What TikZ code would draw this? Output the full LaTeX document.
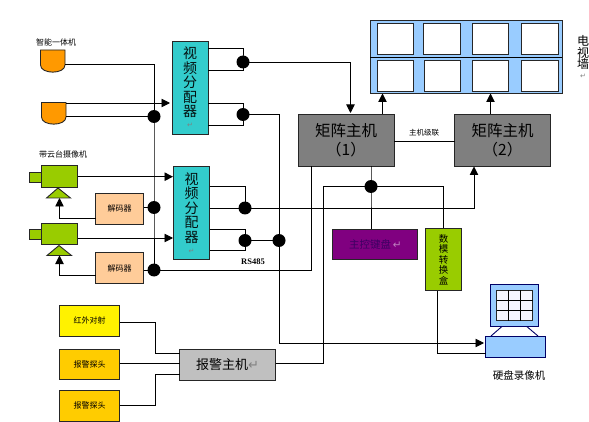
\documentclass[tikz,border=0pt]{standalone}
\usepackage{fontspec}
\setmainfont{Noto Sans CJK SC}
\newfontfamily\arrowfont{DejaVu Sans}
\newfontfamily\latinfont{Liberation Serif}
\usetikzlibrary{arrows.meta,calc}
\definecolor{teal1}{HTML}{33CCCC}
\definecolor{orange1}{HTML}{FF9900}
\definecolor{green1}{HTML}{99CC00}
\definecolor{peach1}{HTML}{FFCC99}
\definecolor{sky1}{HTML}{99CCFF}
\definecolor{amber1}{HTML}{FFCC00}
\definecolor{purple1}{HTML}{800080}
\definecolor{graydark}{HTML}{7F7F7F}
\definecolor{graylight}{HTML}{C0C0C0}
\newcommand{\ret}[1][gray]{{\arrowfont\textcolor{#1}{↵}}}
\newcommand{\fs}[1]{\fontsize{#1}{#1}\selectfont}
\tikzset{
  x=1pt,y=-1pt,
  every path/.style={line width=0.9pt},
  blk/.style={draw=black!85,line width=0.9pt,inner sep=0pt,outer sep=0pt,align=center},
  sized/.style 2 args={minimum width=#1,minimum height=#2},
  splitbox/.style={blk,fill=teal1,sized={36pt}{93pt},text=black!92!teal1,
     font=\fs{14},text width=36pt},
  matrixbox/.style={blk,fill=graydark,sized={96pt}{52pt},text=black,font=\fs{15.5}},
  decoderbox/.style={blk,fill=peach1,sized={48pt}{31pt},font=\fs{8}},
  alarmbox/.style={blk,fill=amber1,sized={60pt}{30.5pt},font=\fs{8}},
  screen/.style={blk,fill=white,sized={36.5pt}{31pt}},
  camerabody/.style={blk,fill=green1,sized={36pt}{21.5pt}},
  cameralens/.style={blk,fill=green1,sized={12pt}{10pt}},
  junction/.style={circle,fill=black,inner sep=0pt,outer sep=0pt,minimum size=13pt},
  wire/.style={draw=black,line width=0.9pt},
  arrowwire/.style={wire,-{Triangle[length=8.5pt,width=8.5pt]}},
  lbl/.style={inner sep=0pt,outer sep=0pt,align=center},
}
\begin{document}
\begin{tikzpicture}
\useasboundingbox (0,0) rectangle (589,422);
% video wall
\node[blk,fill=sky1,sized={192pt}{73pt}] (wall) at (466,56.5) {};
\draw[wire] (wall.west |- 0,57.5) -- (wall.east |- 0,57.5);
\node[screen] (s11) at (395.5,38.5) {};
\node[screen] (s12) at (441.7,38.5) {};
\node[screen] (s13) at (490.5,38.5) {};
\node[screen] (s14) at (539.7,38.5) {};
\node[screen] (s21) at (395.5,75.7) {};
\node[screen] (s22) at (442.2,75.7) {};
\node[screen] (s23) at (490.5,75.7) {};
\node[screen] (s24) at (539.7,75.7) {};
\node[lbl,font=\fs{12},text=black] (walllabel) at (583,57) {电\\[-0.5pt]视\\[-0.5pt]墙\\[-2pt]{\fs{7}\ret}};

% bullet cameras
\draw[blk,fill=orange1] (40.5,50) -- (65,50) -- (65,65) .. controls (65,74.5) and (40.5,74.5) .. (40.5,65) -- cycle;
\draw[blk,fill=orange1] (41.5,102.5) -- (66,102.5) -- (66,117) .. controls (66,126.5) and (41.5,126.5) .. (41.5,117) -- cycle;
\coordinate (bc1) at (65,64);
\coordinate (bc2t) at (66,103);
\coordinate (bc2b) at (66,116.5);
\node[lbl,font=\fs{8}] (lb1) at (56,42.5) {智能一体机};
\node[lbl,font=\fs{8}] (lb2) at (63,154) {带云台摄像机};

% PTZ cameras
\node[camerabody] (cam1) at (59.5,176.7) {};
\node[cameralens] (lens1) at (35.5,177) {};
\draw[blk,fill=green1] (58,188) -- (70.5,198) -- (46.5,198) -- cycle;
\coordinate (base1) at (59.5,198);
\node[camerabody] (cam2) at (59.5,234) {};
\node[cameralens] (lens2) at (35.5,234) {};
\draw[blk,fill=green1] (59,245.5) -- (71.5,255.5) -- (47,255.5) -- cycle;
\coordinate (base2) at (59.5,255.5);

% decoders
\node[decoderbox] (dec1) at (119.5,208.7) {解码器};
\node[decoderbox] (dec2) at (119.5,268) {解码器};

% splitters
\node[splitbox] (sp1) at (190,87.5) {视\\[0.5pt]频\\[0.5pt]分\\[0.5pt]配\\[0.5pt]器\\[-3pt]{\fs{7}\ret}};
\node[splitbox] (sp2) at (191.5,212.7) {视\\[0.5pt]频\\[0.5pt]分\\[0.5pt]配\\[0.5pt]器\\[-3pt]{\fs{7}\ret}};

% matrix hosts
\node[matrixbox] (m1) at (346,140) {\raisebox{-2pt}{矩阵主机}\\[4pt]\raisebox{-2pt}{（1）}};
\node[matrixbox] (m2) at (502.5,140) {\raisebox{-2pt}{矩阵主机}\\[4pt]\raisebox{-2pt}{（2）}};
\node[lbl,font=\fs{7.5}] (casc) at (424,133) {主机级联};

% keyboard and D/A box
\node[blk,fill=purple1,sized={85pt}{29.5pt},text=black!45!purple1!85!blue,font=\fs{10.5}] (kbd) at (375.3,244.2) {主控键盘\,\ret[violet!50!white]};
\node[blk,fill=green1,sized={36pt}{62pt},font=\fs{9.5},text=black] (da) at (443.5,259.5) {数\\[1pt]模\\[1pt]转\\[1pt]换\\[1pt]盒};

% alarm
\node[blk,fill=yellow,sized={60pt}{30.5pt},font=\fs{8}] (a1) at (89.5,320.7) {红外对射};
\node[alarmbox] (a2) at (89.5,364.2) {报警探头};
\node[alarmbox] (a3) at (89.5,405.7) {报警探头};
\node[blk,fill=graylight,sized={96pt}{30.5pt},font=\fs{13},text=black] (host) at (227.5,364.7) {报警主机\ret};

% DVR
\node[blk,draw=blue!40!black,fill=sky1,sized={60pt}{21.5pt}] (dvr) at (515.5,346.7) {};
\node[blk,draw=blue!40!black,fill=sky1,sized={48.5pt}{42.5pt}] (mon) at (514.3,305.5) {};
\node[blk,fill=blue!4!white,sized={36pt}{30.5pt}] (grid) at (514.5,305.5) {};
\draw[wire] (grid.north west) ++(12,0) -- ++(0,30.5);
\draw[wire] (grid.north west) ++(24,0) -- ++(0,30.5);
\draw[wire] (grid.north west) ++(0,10.2) -- ++(36,0);
\draw[wire] (grid.north west) ++(0,20.4) -- ++(36,0);
\draw[draw=blue!40!black] (501.7,326.7) -- (491,336);
\draw[draw=blue!40!black] (527,326.7) -- (538,336);
\node[lbl,font=\fs{10.5},text=black] (dvrlabel) at (519,375) {硬盘录像机};

% junctions
\node[junction] (j1) at (154,116.5) {};
\node[junction] (j2) at (243,62) {};
\node[junction] (j3) at (243,114.5) {};
\node[junction] (j4) at (154,207.5) {};
\node[junction] (j5) at (245,208) {};
\node[junction] (j6) at (245,240.5) {};
\node[junction] (j7) at (279,240.5) {};
\node[junction] (j8) at (154,270) {};
\node[junction] (j9) at (371,186.5) {};
\coordinate (bus) at (323,186.5);
\coordinate (buslow) at (323,363);

% camera signal wires
\draw[wire] (bc1) -- (j1.center |- bc1) -- (j1.center);
\draw[wire] (j1.center) -- (j4.center) -- (j8.center);
\draw[wire] (bc2b) -- (j1.center);
\draw[arrowwire] (bc2t) -- (170,103);
\draw[arrowwire] (cam1.east) -- (173,176.7);
\draw[arrowwire] (cam2.east |- 0,238) -- (173,238);
\draw[arrowwire] (dec1.west |- 0,218.5) -| (base1);
\draw[arrowwire] (dec2.west |- 0,275.5) -| (base2);
\draw[wire] (dec1.east |- j4) -- (j4.center);
\draw[wire] (dec2.east |- j8) -- (j8.center);

% splitter outputs
\draw[wire] (sp1.east |- 0,48) -| (j2.center) |- (sp1.east |- 0,70);
\draw[wire] (sp1.east |- 0,103) -| (j3.center) |- (sp1.east |- 0,125);
\draw[wire] (sp2.east |- 0,186) -| (j5.center);
\draw[wire] (sp2.east |- 0,229) -| (j6.center) |- (sp2.east |- 0,250);
\draw[wire] (j6.center) -- (j7.center);

% matrix connections
\draw[arrowwire] (j2.center) -| (350.5,113);
\draw[wire] (j3.center) -| (j7.center);
\draw[arrowwire] (j7.center) |- (484,343);
\draw[arrowwire] (sp2.east |- j5) -| (474,166.5);
\draw[wire] (j8.center) -| (311,166);
\draw[wire] (m1.east |- 0,141) -- (m2.west |- 0,141);
\draw[arrowwire] (382.5,114) -- (382.5,93.5);
\draw[arrowwire] (490.5,114.5) -- (490.5,93.5);
\draw[wire] (371,166) -- (j9.center) -- (kbd.north -| j9);
\draw[wire] (host.east |- buslow) -- (buslow) -- (bus) -- (j9.center) -| (da.north -| 443.5,0);
\draw[wire] (da.south -| 437.5,0) |- (dvr.west |- 0,353);

% alarm wires
\draw[wire] (a1.east |- 0,322.5) -- (155.5,322.5) -- (155.5,353) -- (host.west |- 0,353);
\draw[wire] (a2.east |- 0,363) -- (host.west |- 0,363);
\draw[wire] (a3.east |- 0,405) -- (155.5,405) -- (155.5,374.5) -- (host.west |- 0,374.5);

\node[lbl,font=\fontsize{8.5}{9}\latinfont\bfseries] (rs) at (253,262) {RS485};
\end{tikzpicture}
\end{document}
